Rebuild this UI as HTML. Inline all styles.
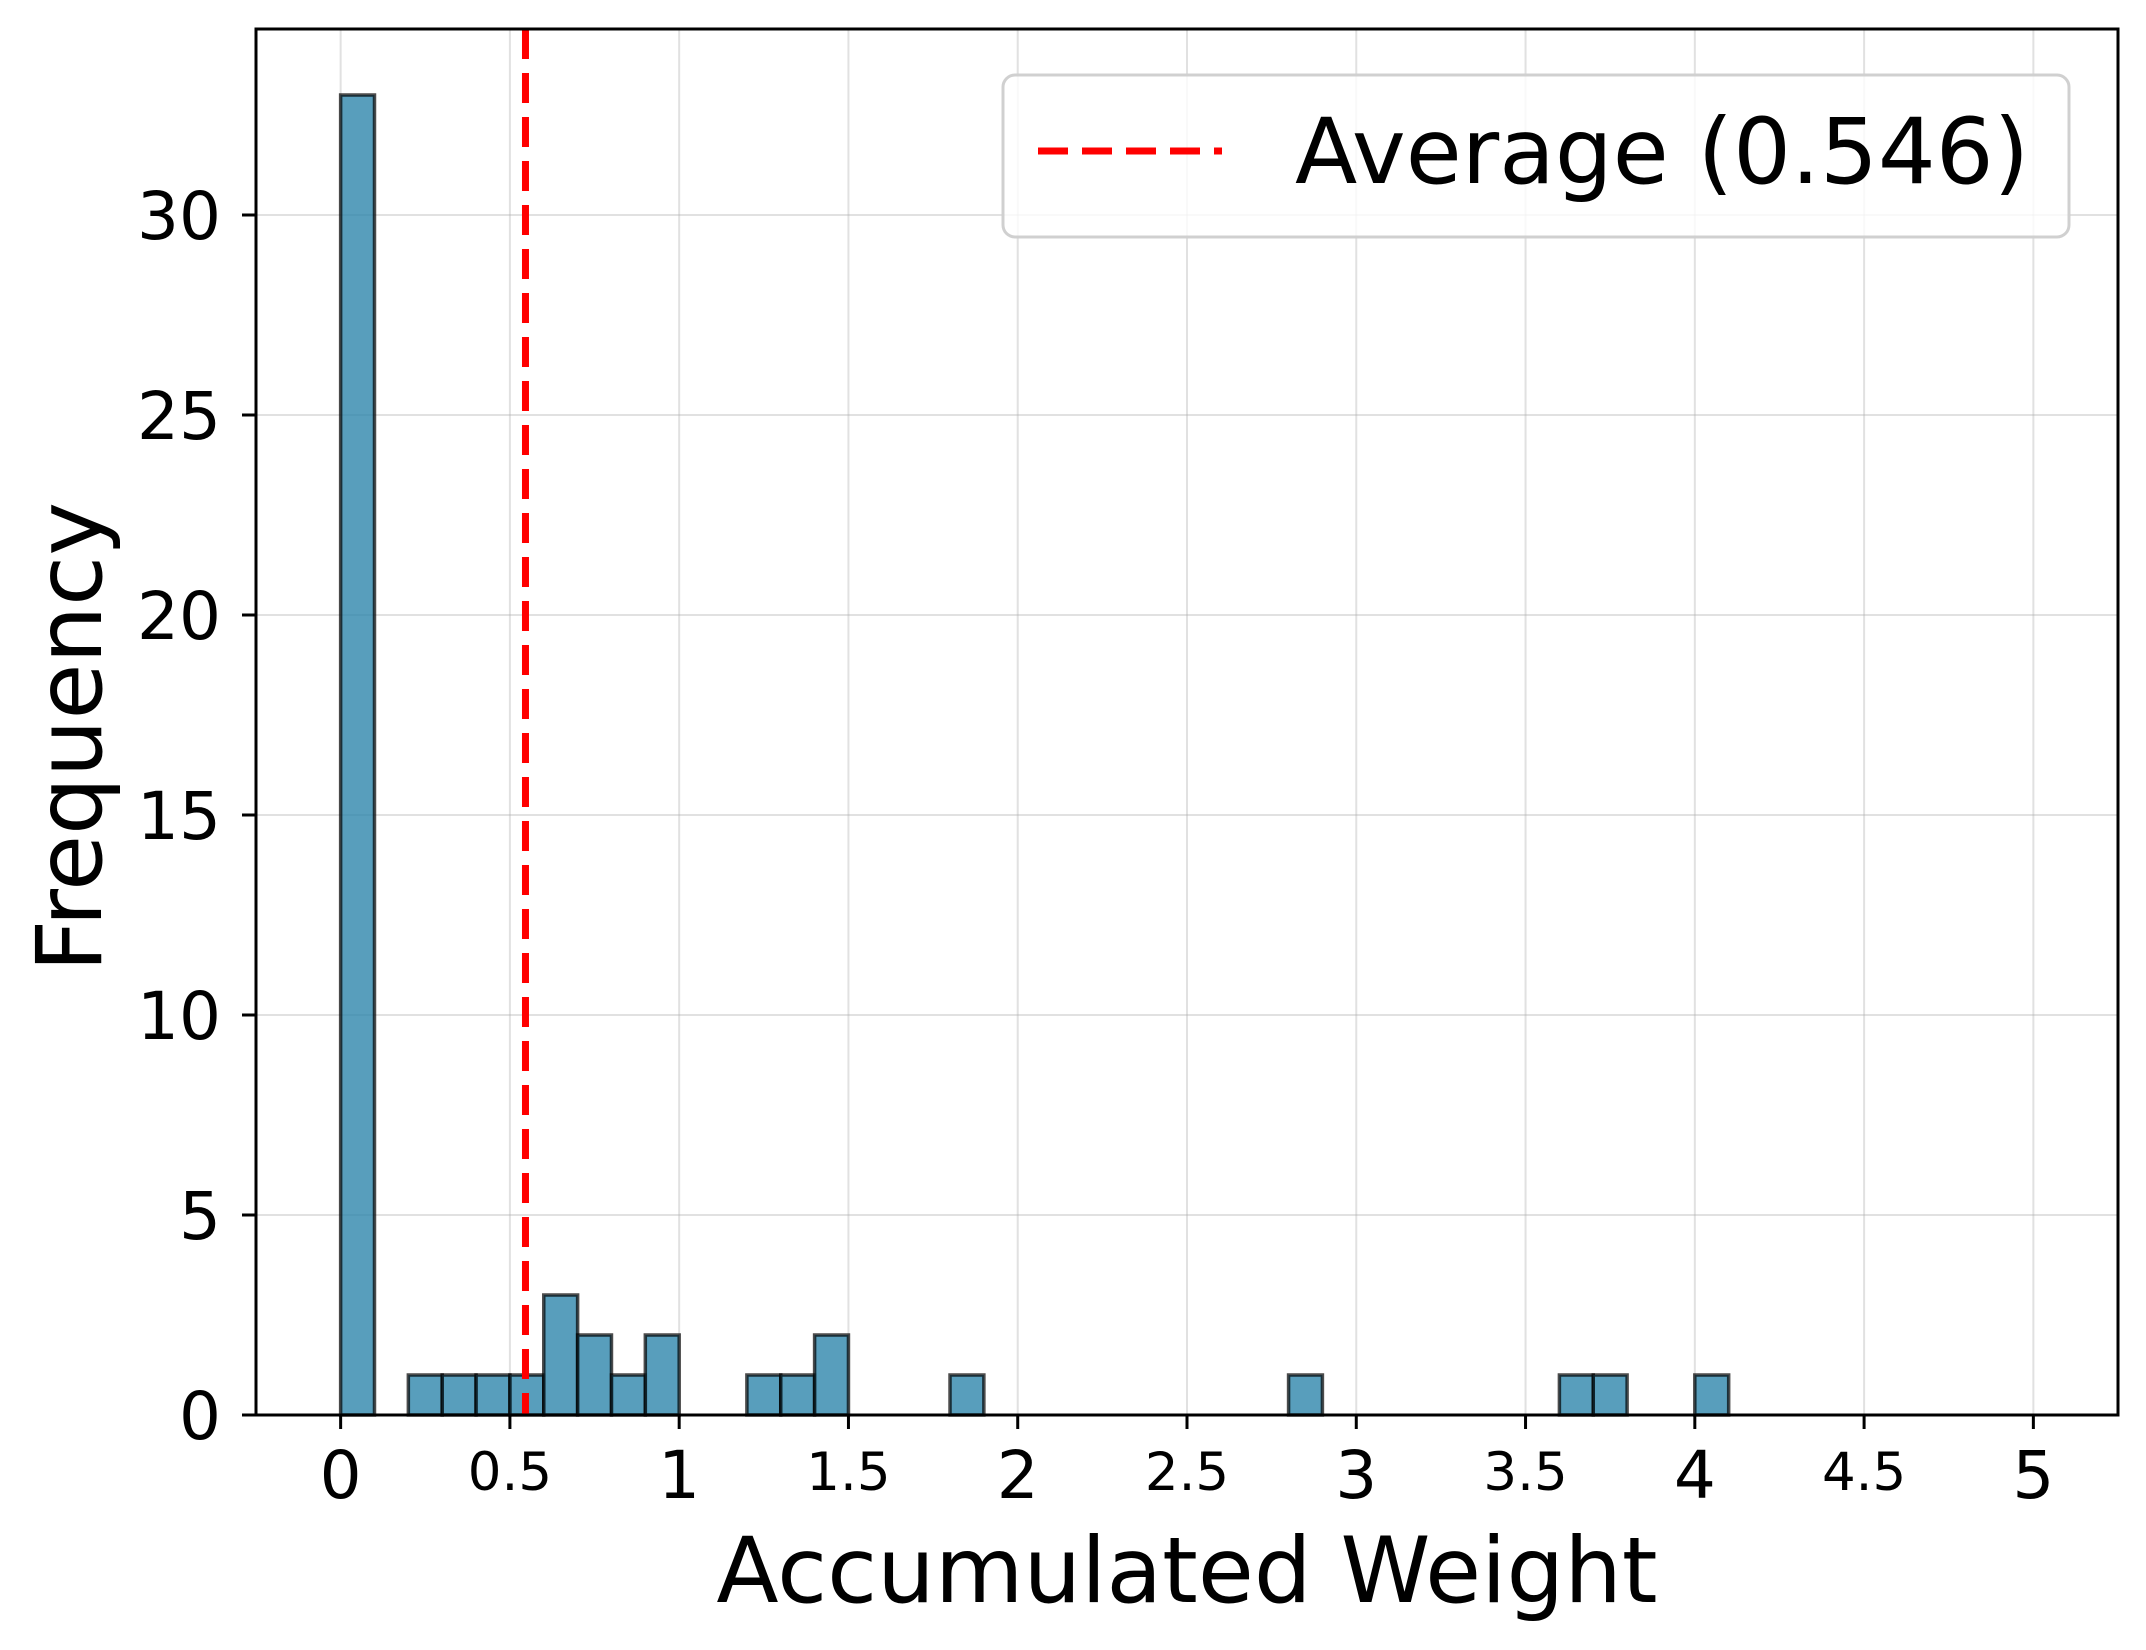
<!DOCTYPE html>
<html><head><meta charset="utf-8"><style>
html,body{margin:0;padding:0;background:#fff;}
svg{display:block;font-family:"DejaVu Sans","Liberation Sans",sans-serif;}
</style></head><body>
<svg id="chart" width="2146" height="1650" viewBox="0 0 2146 1650">
<rect x="0" y="0" width="2146" height="1650" fill="#fff"/>
<g id="grid"></g>
<g id="bars"></g>
<g id="avg"></g>
<g id="axes"></g>
<text x="1187" y="1602" font-size="91" text-anchor="middle">Accumulated Weight</text>
<text transform="translate(101,737) rotate(-90)" font-size="91" text-anchor="middle">Frequency</text>
<g>
<rect x="1003" y="75" width="1066" height="162" rx="12" ry="12" fill="#fff" fill-opacity="0.8" stroke="#d0d0d0" stroke-width="3"/>
<line x1="1038" y1="151" x2="1222" y2="151" stroke="#ff0000" stroke-width="7" stroke-dasharray="30,14"/>
<text x="1295" y="183" font-size="91">Average (0.546)</text>
</g>
</svg>
<script>
const binStarts = [0, 0.2, 0.3, 0.4, 0.5, 0.6, 0.7, 0.8, 0.9, 1.2, 1.3, 1.4, 1.8, 2.8, 3.6, 3.7, 4.0];
const binCounts = [33, 1, 1, 1, 1, 3, 2, 1, 2, 1, 1, 2, 1, 1, 1, 1, 1];
const binWidth = 0.1;
const averageValue = 0.546;
const xTicks = [0, 0.5, 1, 1.5, 2, 2.5, 3, 3.5, 4, 4.5, 5];
const xTickLabels = ["0", "0.5", "1", "1.5", "2", "2.5", "3", "3.5", "4", "4.5", "5"];
const yTicks = [0, 5, 10, 15, 20, 25, 30];
const yTickLabels = ["0", "5", "10", "15", "20", "25", "30"];

const L = 256, R = 2118, T = 29, B = 1415;
const xMin = -0.25, xMax = 5.25, yMin = 0, yMax = 34.65;
const xs = v => L + (v - xMin) / (xMax - xMin) * (R - L);
const ys = v => B - (v - yMin) / (yMax - yMin) * (B - T);
const NS = "http://www.w3.org/2000/svg";
function mk(tag, attrs, parent) {
  const e = document.createElementNS(NS, tag);
  for (const k in attrs) e.setAttribute(k, attrs[k]);
  parent.appendChild(e);
  return e;
}
const grid = document.getElementById('grid');
const bars = document.getElementById('bars');
const avg = document.getElementById('avg');
const axes = document.getElementById('axes');

xTicks.forEach((t, i) => {
  const g = mk('line', {x1: xs(t), x2: xs(t), y1: T, y2: B, stroke: '#b0b0b0', 'stroke-opacity': 0.38, 'stroke-width': 2}, grid);
  
  
  const tk = mk('line', {x1: xs(t), x2: xs(t), y1: B, y2: B + 14, stroke: '#000', 'stroke-width': 3}, axes);
  
  
  const minor = xTickLabels[i].indexOf('.') >= 0;
  const lb = mk('text', {x: xs(t), y: minor ? 1490 : 1498, 'font-size': minor ? 53 : 66, 'text-anchor': 'middle'}, axes);
  lb.textContent = xTickLabels[i];
  
  
});
yTicks.forEach((t, i) => {
  const g = mk('line', {x1: L, x2: R, y1: ys(t), y2: ys(t), stroke: '#b0b0b0', 'stroke-opacity': 0.38, 'stroke-width': 2}, grid);
  
  
  const tk = mk('line', {x1: L - 14, x2: L, y1: ys(t), y2: ys(t), stroke: '#000', 'stroke-width': 3}, axes);
  
  
  const lb = mk('text', {x: 221, y: ys(t) + 24, 'font-size': 66, 'text-anchor': 'end'}, axes);
  lb.textContent = yTickLabels[i];
  
  
});
binStarts.forEach((s, i) => {
  const x1 = xs(s), x2 = xs(s + binWidth), y = ys(binCounts[i]);
  const r = mk('rect', {x: x1, y: y, width: x2 - x1, height: ys(0) - y, fill: '#2E86AB', 'fill-opacity': 0.8, stroke: '#000', 'stroke-opacity': 0.7, 'stroke-width': 3.5}, bars);
  
  
});
const al = mk('line', {x1: xs(averageValue), x2: xs(averageValue), y1: T, y2: B, stroke: '#ff0000', 'stroke-width': 7, 'stroke-dasharray': '30,14'}, avg);


const frame = mk('rect', {x: L, y: T, width: R - L, height: B - T, fill: 'none', stroke: '#000', 'stroke-width': 3}, axes);


</script>
</body></html>
